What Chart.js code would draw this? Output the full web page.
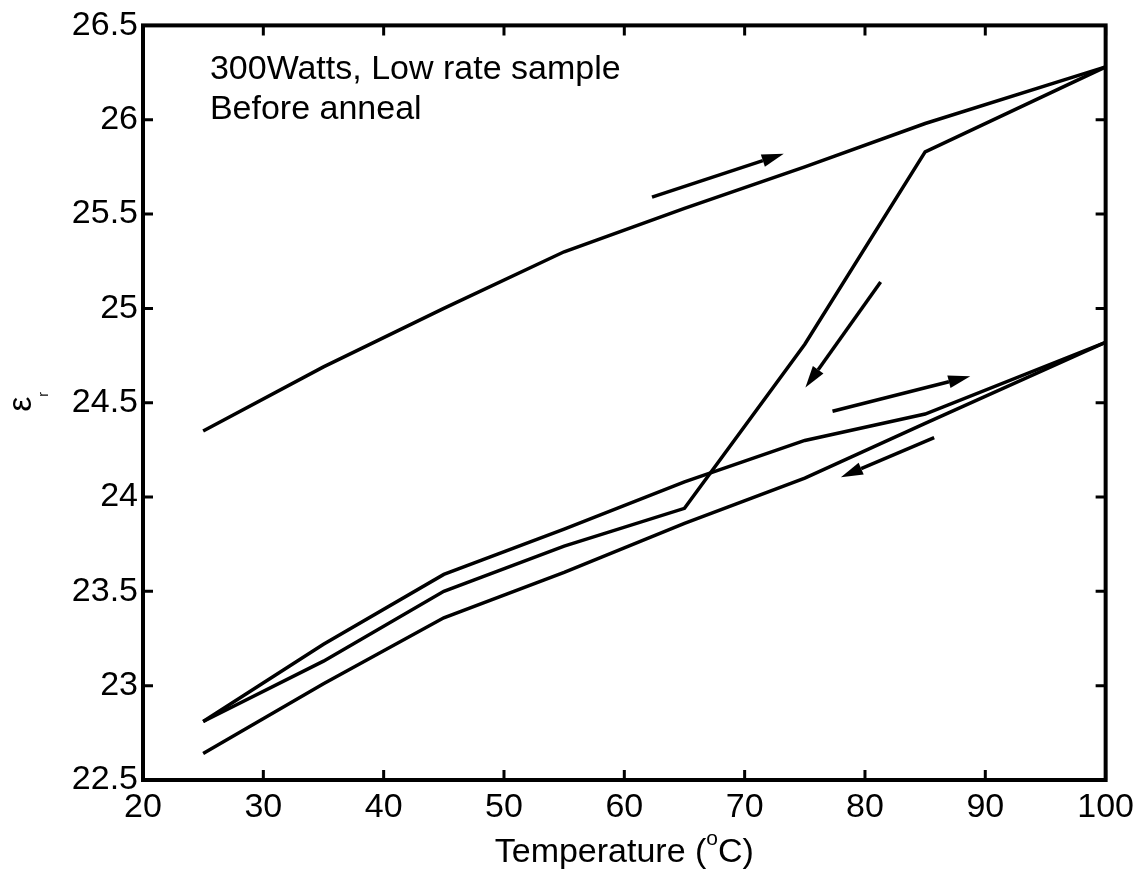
<!DOCTYPE html>
<html>
<head>
<meta charset="utf-8">
<title>epsilon_r vs temperature</title>
<script src="https://cdn.jsdelivr.net/npm/chart.js@4.4.1/dist/chart.umd.min.js"></script>
<style>
  html, body { margin: 0; padding: 0; background: #fff; }
  #wrap { width: 1141px; height: 873px; position: relative; }
</style>
</head>
<body>
<div id="wrap"><canvas id="chart"></canvas></div>
<script>
'use strict';

// measurement temperatures (oC)
const temps = [25, 35, 45, 55, 65, 75, 85, 100];

// first heating and cooling run
const heat1 = [24.35, 24.69, 25.00, 25.30, 25.53, 25.75, 25.98, 26.28];
const cool1 = [22.81, 23.13, 23.50, 23.74, 23.94, 24.81, 25.83, 26.28];
// second heating and cooling run
const heat2 = [22.81, 23.22, 23.59, 23.83, 24.08, 24.30, 24.44, 24.82];
const cool2 = [22.64, 23.01, 23.36, 23.60, 23.86, 24.10, 24.39, 24.82];

const xTicks = [20, 30, 40, 50, 60, 70, 80, 90, 100];
const yTicks = [22.5, 23, 23.5, 24, 24.5, 25, 25.5, 26, 26.5];

// direction arrows: [fromT, fromEps, toT, toEps]
const arrows = [
  [62.3, 25.59, 73.25, 25.82],
  [81.3, 25.14, 75.05, 24.58],
  [77.3, 24.455, 88.75, 24.64],
  [85.75, 24.315, 78.0, 24.105]
];

const noteLines = ['300Watts, Low rate sample', 'Before anneal'];

const FONT = '"Liberation Sans", Arial, Helvetica, sans-serif';

function toPoints(vals) {
  return temps.map(function(t, i) { return {x: t, y: vals[i]}; });
}

function lineSet(vals) {
  return {
    data: toPoints(vals),
    showLine: true,
    borderColor: '#000',
    borderWidth: 3.5,
    pointRadius: 0,
    fill: false,
    tension: 0
  };
}

const decor = {
  id: 'decor',
  afterDatasetsDraw: function(chart) {
    const ctx = chart.ctx;
    const a = chart.chartArea;
    const x = chart.scales.x, y = chart.scales.y;
    ctx.save();
    ctx.strokeStyle = '#000';
    ctx.fillStyle = '#000';

    // arrows
    ctx.lineWidth = 3.5;
    arrows.forEach(function(ar) {
      const x0 = x.getPixelForValue(ar[0]), y0 = y.getPixelForValue(ar[1]);
      const x1 = x.getPixelForValue(ar[2]), y1 = y.getPixelForValue(ar[3]);
      const ang = Math.atan2(y1 - y0, x1 - x0);
      const len = 22, half = 6.5;
      const bx = x1 - len * Math.cos(ang), by = y1 - len * Math.sin(ang);
      ctx.beginPath();
      ctx.moveTo(x0, y0);
      ctx.lineTo(bx, by);
      ctx.stroke();
      ctx.beginPath();
      ctx.moveTo(x1, y1);
      ctx.lineTo(bx + half * Math.sin(ang), by - half * Math.cos(ang));
      ctx.lineTo(bx - half * Math.sin(ang), by + half * Math.cos(ang));
      ctx.closePath();
      ctx.fill();
    });

    // box
    ctx.lineWidth = 4;
    ctx.strokeRect(a.left, a.top, a.right - a.left, a.bottom - a.top);

    // ticks pointing inwards, on all four sides
    ctx.lineWidth = 3;
    ctx.beginPath();
    xTicks.forEach(function(v) {
      const px = x.getPixelForValue(v);
      ctx.moveTo(px, a.bottom); ctx.lineTo(px, a.bottom - 10);
      ctx.moveTo(px, a.top); ctx.lineTo(px, a.top + 10);
    });
    yTicks.forEach(function(v) {
      const py = y.getPixelForValue(v);
      ctx.moveTo(a.left, py); ctx.lineTo(a.left + 10, py);
      ctx.moveTo(a.right, py); ctx.lineTo(a.right - 10, py);
    });
    ctx.stroke();

    // note in the upper left corner
    ctx.font = '34px ' + FONT;
    ctx.textAlign = 'left';
    ctx.textBaseline = 'alphabetic';
    const nx = x.getPixelForValue(25.56);
    const ny = y.getPixelForValue(26.215);
    noteLines.forEach(function(s, i) { ctx.fillText(s, nx, ny + i * 40); });

    // x title: Temperature (^oC)
    const t1 = 'Temperature (', t2 = 'o', t3 = 'C)';
    ctx.font = '34px ' + FONT;
    const w1 = ctx.measureText(t1).width, w3 = ctx.measureText(t3).width;
    ctx.font = '21px ' + FONT;
    const w2 = ctx.measureText(t2).width;
    let tx = (a.left + a.right) / 2 - (w1 + w2 + w3) / 2;
    const base = a.bottom + 82;
    ctx.font = '34px ' + FONT;
    ctx.fillText(t1, tx, base);
    tx += w1;
    ctx.font = '21px ' + FONT;
    ctx.fillText(t2, tx, base - 17);
    tx += w2;
    ctx.font = '34px ' + FONT;
    ctx.fillText(t3, tx, base);

    // y title: epsilon_r, rotated
    ctx.translate(31, (a.top + a.bottom) / 2 + 9);
    ctx.rotate(-Math.PI / 2);
    ctx.font = '34px ' + FONT;
    ctx.fillText('\u03b5', 0, 0);
    ctx.font = '14px ' + FONT;
    ctx.fillText('r', 15, 17);

    ctx.restore();
  }
};

new Chart(document.getElementById('chart'), {
  type: 'scatter',
  data: {
    datasets: [lineSet(heat1), lineSet(cool1), lineSet(heat2), lineSet(cool2)]
  },
  options: {
    responsive: true,
    maintainAspectRatio: false,
    animation: false,
    layout: { padding: { top: 21, right: 35, left: 0, bottom: 0 } },
    plugins: {
      legend: { display: false },
      tooltip: { enabled: false }
    },
    scales: {
      x: {
        type: 'linear',
        min: 20,
        max: 100,
        grid: { display: false, drawTicks: false },
        border: { display: false },
        afterBuildTicks: function(s) { s.ticks = xTicks.map(function(v) { return {value: v}; }); },
        afterFit: function(s) { s.height = 93; },
        ticks: {
          autoSkip: false,
          maxRotation: 0,
          padding: 7,
          color: '#000',
          font: { family: FONT, size: 34 },
          callback: function(v) { return String(v); }
        }
      },
      y: {
        type: 'linear',
        min: 22.5,
        max: 26.5,
        grid: { display: false, drawTicks: false },
        border: { display: false },
        afterBuildTicks: function(s) { s.ticks = yTicks.map(function(v) { return {value: v}; }); },
        afterFit: function(s) { s.width = 143; },
        ticks: {
          autoSkip: false,
          padding: 5,
          color: '#000',
          font: { family: FONT, size: 34 },
          callback: function(v) { return String(v); }
        }
      }
    }
  },
  plugins: [decor]
});
</script>
</body>
</html>
